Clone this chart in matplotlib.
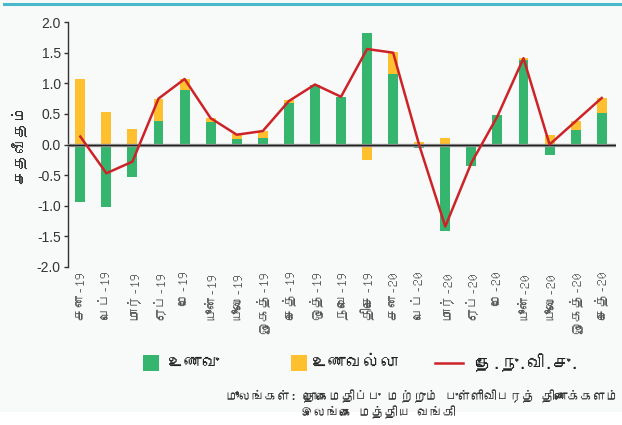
import numpy as np
import matplotlib
matplotlib.use("Agg")
import matplotlib.pyplot as plt
from matplotlib import font_manager
from matplotlib.ft2font import FT2Font
from matplotlib.patches import Rectangle
from matplotlib.lines import Line2D

# Data
months = ["சன-19", "பெப்-19", "மார்-19", "ஏப்-19", "மே-19", "யூன்-19", "யூலை-19",
          "ஓகத்-19", "செத்-19", "ஒத்-19", "நவெ-19", "திசெ-19", "சன-20", "பெப்-20",
          "மார்-20", "ஏப்-20", "மே-20", "யூன்-20", "யூலை-20", "ஓகத்-20", "செத்-20"]
food = [-0.94, -1.02, -0.53, 0.38, 0.89, 0.36, 0.09, 0.11, 0.67, 0.98, 0.77,
        1.82, 1.15, -0.05, -1.41, -0.35, 0.48, 1.38, -0.17, 0.23, 0.51]
nonfood = [1.07, 0.53, 0.25, 0.37, 0.18, 0.07, 0.08, 0.11, 0.05, -0.02, -0.02,
           -0.26, 0.36, 0.04, 0.10, 0.0, -0.03, 0.04, 0.15, 0.15, 0.25]
ncpi = [0.13, -0.47, -0.28, 0.75, 1.07, 0.43, 0.16, 0.22, 0.71, 0.98, 0.78,
        1.56, 1.50, -0.01, -1.34, -0.30, 0.46, 1.41, 0.0, 0.38, 0.76]

legend_labels = ["உணவு", "உணவல்லா", "தே.நு.வி.சு."]
y_label = "சதவீதம்"
source_1 = "மூலங்கள்: தொகைமதிப்பு மற்றும் புள்ளிவிபரத் திணைக்களம்"
source_2 = "இலங்கை மத்திய வங்கி"

GREEN = "#36b56f"
YELLOW = "#fec02f"
RED = "#cd2328"
BG = "#f8f9f9"


def find_tamil_font():
    # look for any installed font that has Tamil glyphs
    for f in font_manager.fontManager.ttflist:
        try:
            if 0x0BA4 in FT2Font(f.fname).get_charmap():
                return f.name
        except Exception:
            pass
    return None


tamil = find_tamil_font()
fam = ([tamil] if tamil else []) + ["Liberation Sans", "DejaVu Sans"]
plt.rcParams["font.family"] = fam

fig = plt.figure(figsize=(6.22, 4.25), dpi=100, facecolor=BG)
# white strip at the very bottom and cyan rule at the top
fig.patches.append(Rectangle((0, 0), 1, 13 / 425, transform=fig.transFigure,
                             facecolor="white", edgecolor="none", zorder=0))
fig.add_artist(Line2D([4 / 622, 1], [1 - 4 / 425, 1 - 4 / 425], color="#47b9c9",
                      lw=2.2, transform=fig.transFigure))

ax = fig.add_axes([0.109, 0.372, 0.881, 0.576])
ax.set_facecolor(BG)

x = np.arange(len(months))
food = np.array(food)
nonfood = np.array(nonfood)
bottom = np.where(np.sign(food) == np.sign(nonfood), food, 0)
w = 0.38

ax.bar(x, food, width=w, color=GREEN, zorder=2)
ax.bar(x, nonfood, width=w, bottom=bottom, color=YELLOW, zorder=2)
ax.axhline(0, color="#9a9a9a", lw=2.4, zorder=3)
ax.axhline(0, color="#222222", lw=1.0, zorder=3)
ax.plot(x, ncpi, color=RED, lw=1.8, zorder=4)

ax.set_ylim(-2.0, 2.0)
ax.set_xlim(-0.48, 20.54)
ax.set_yticks(np.arange(-2.0, 2.01, 0.5))
ax.set_yticklabels([f"{v:.1f}" for v in np.arange(-2.0, 2.01, 0.5)],
                   fontsize=10, color="#333333", family=["Liberation Sans"])
ax.tick_params(axis="y", length=3, width=1, color="#333333", pad=2)
ax.set_xticks(x)
ax.set_xticklabels(months, rotation=90, fontsize=10, color="#555555", va="top")
ax.tick_params(axis="x", length=0, pad=3)
for s in ["top", "right", "bottom"]:
    ax.spines[s].set_visible(False)
ax.spines["left"].set_color("#333333")
ax.spines["left"].set_linewidth(1.0)

fig.text(0.03, 0.66, y_label, rotation=90, ha="center", va="center",
         fontsize=11.5, color="#333333")

# legend drawn by hand to match the spread-out layout
ly = 1 - 363 / 425
fig.patches.append(Rectangle((143 / 622, ly - 8 / 425), 16 / 622, 16 / 425,
                             transform=fig.transFigure, facecolor=GREEN))
fig.text(168 / 622, ly, legend_labels[0], va="center", fontsize=12.5, color="#222222")
fig.patches.append(Rectangle((291 / 622, ly - 8 / 425), 16 / 622, 16 / 425,
                             transform=fig.transFigure, facecolor=YELLOW))
fig.text(312 / 622, ly, legend_labels[1], va="center", fontsize=12.5, color="#222222")
fig.add_artist(Line2D([435 / 622, 463 / 622], [ly, ly], color=RED, lw=1.8,
                      transform=fig.transFigure))
fig.text(475 / 622, ly, legend_labels[2], va="center", fontsize=12.5, color="#222222")

fig.text(619 / 622, 1 - 396 / 425, source_1, ha="right", va="center",
         fontsize=9.3, color="#333333", style="italic")
fig.text(378 / 622, 1 - 412 / 425, source_2, ha="center", va="center",
         fontsize=9.3, color="#333333")

fig.savefig("out.png", dpi=100, facecolor=BG)
